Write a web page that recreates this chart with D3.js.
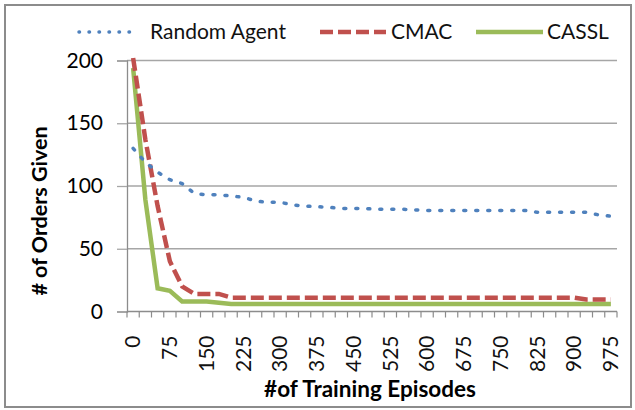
<!DOCTYPE html>
<html>
<head>
<meta charset="utf-8">
<script src="https://cdn.jsdelivr.net/npm/d3@7"></script>
<style>
  body { margin: 0; background: #fff; }
  svg text { font-family: Lato, "Open Sans", sans-serif; fill: #000; }
</style>
</head>
<body>
<svg width="635" height="410"></svg>
<script>
// episodes on the category axis
const categories = ['0','25','50','75','100','125','150','175','200','225','250','275','300','325','350','375','400','425','450','475',
  '500','525','550','575','600','625','650','675','700','725','750','775','800','825','850','875','900','925','950','975'];
const xTickLabels = ['0','75','150','225','300','375','450','525','600','675','750','825','900','975'];
const yTicks = [0, 50, 100, 150, 200];

const randomAgent = [130,119,111,105,102,94,93,93,92,91,88,87,87,85,84,83.5,83,82,82,82,
  81.5,81.5,81.5,81,80.5,80.5,80.5,80.5,80.5,80.5,80.5,80.5,80.5,79,79,79,79,79,77,76];
const cmac = [202,137,84,40,20,14,14,14,11,11,11,11,11,11,11,11,11,11,11,11,
  11,11,11,11,11,11,11,11,11,11,11,11,11,11,11,11,11,9.5,9.5,9.5];
const cassl = [194,89,18.5,16.5,8,8,8,7,6,6,6,6,6,6,6,6,6,6,6,6,
  6,6,6,6,6,6,6,6,6,6,6,6,6,6,6,6,6,6,6,6];

const seriesNames = ['Random Agent', 'CMAC', 'CASSL'];

const svg = d3.select('svg');

// outer frame
svg.append('rect')
    .attr('x', 5).attr('y', 5)
    .attr('width', 626).attr('height', 402)
    .attr('fill', 'none')
    .attr('stroke', '#8c8c8c')
    .attr('stroke-width', 2);

const plotLeft = 127, plotRight = 617, plotTop = 60.5, plotBottom = 311.5;

const x = d3.scaleBand().domain(categories).range([plotLeft, plotRight]).padding(0);
const y = d3.scaleLinear().domain([0, 200]).range([plotBottom, plotTop]);
const cx = c => x(c) + x.bandwidth() / 2;

// gridlines
svg.append('g')
    .selectAll('line')
    .data(yTicks.filter(d => d > 0))
    .enter()
    .append('line')
    .attr('x1', plotLeft).attr('x2', plotRight)
    .attr('y1', d => y(d)).attr('y2', d => y(d))
    .attr('stroke', '#a6a6a6')
    .attr('stroke-width', 1.3);

// y axis
const yAxis = svg.append('g')
    .attr('transform', 'translate(' + plotLeft + ',0)')
    .call(d3.axisLeft(y).tickValues(yTicks).tickSize(10).tickPadding(14));
yAxis.select('.domain').attr('stroke', '#8c8c8c').attr('stroke-width', 1.3);
yAxis.selectAll('.tick line').attr('stroke', '#a6a6a6').attr('stroke-width', 1.3);
yAxis.selectAll('text')
    .style('font-family', 'Lato, sans-serif')
    .attr('font-size', 21)
    .attr('fill', '#111');

// x axis: tick marks on band edges
const xAxis = svg.append('g');
xAxis.append('line')
    .attr('x1', plotLeft).attr('x2', plotRight)
    .attr('y1', plotBottom).attr('y2', plotBottom)
    .attr('stroke', '#8c8c8c')
    .attr('stroke-width', 1.3);
xAxis.selectAll('line.tk')
    .data(categories.concat(['end']))
    .enter()
    .append('line')
    .attr('class', 'tk')
    .attr('x1', d => d === 'end' ? plotRight : x(d))
    .attr('x2', d => d === 'end' ? plotRight : x(d))
    .attr('y1', plotBottom).attr('y2', plotBottom + 6)
    .attr('stroke', '#8c8c8c')
    .attr('stroke-width', 1.2);
xAxis.selectAll('text')
    .data(xTickLabels)
    .enter()
    .append('text')
    .attr('transform', d => 'translate(' + cx(d) + ',' + (plotBottom + 24) + ') rotate(-90)')
    .attr('text-anchor', 'end')
    .attr('dy', '0.35em')
    .attr('font-size', 21)
    .style('fill', '#111')
    .text(d => d);

// series
const line = d3.line()
    .x((d, i) => cx(categories[i]))
    .y(d => y(d));

svg.append('path')
    .datum(cassl)
    .attr('d', line)
    .attr('fill', 'none')
    .attr('stroke', '#9bbb59')
    .attr('stroke-width', 4.5);

svg.append('path')
    .datum(cmac)
    .attr('d', line)
    .attr('fill', 'none')
    .attr('stroke', '#c0504d')
    .attr('stroke-width', 4.5)
    .attr('stroke-dasharray', '13,5');

svg.append('path')
    .datum(randomAgent)
    .attr('d', line)
    .attr('fill', 'none')
    .attr('stroke', '#4f81bd')
    .attr('stroke-width', 3.5)
    .attr('stroke-linecap', 'round')
    .attr('stroke-dasharray', '2,10');

// legend
const legend = [
  {name: seriesNames[0], x1: 79, x2: 139, tx: 150, color: '#4f81bd', w: 3.5, dash: '0.5,9.5', cap: 'round'},
  {name: seriesNames[1], x1: 320, x2: 386, tx: 391, color: '#c0504d', w: 4.5, dash: '13,5', cap: 'butt'},
  {name: seriesNames[2], x1: 476, x2: 543, tx: 547, color: '#9bbb59', w: 4.5, dash: null, cap: 'butt'}
];
const lg = svg.append('g');
lg.selectAll('line')
    .data(legend)
    .enter()
    .append('line')
    .attr('x1', d => d.x1).attr('x2', d => d.x2)
    .attr('y1', 32).attr('y2', 32)
    .attr('stroke', d => d.color)
    .attr('stroke-width', d => d.w)
    .attr('stroke-linecap', d => d.cap)
    .attr('stroke-dasharray', d => d.dash);
lg.selectAll('text')
    .data(legend)
    .enter()
    .append('text')
    .attr('x', d => d.tx)
    .attr('y', 39)
    .attr('font-size', 21)
    .style('fill', '#111')
    .text(d => d.name);

// axis titles
svg.append('text')
    .attr('x', 370).attr('y', 397)
    .attr('text-anchor', 'middle')
    .attr('font-size', 22.5)
    .attr('font-weight', 'bold')
    .text('#of Training Episodes');

svg.append('text')
    .attr('transform', 'translate(47,211) rotate(-90)')
    .attr('text-anchor', 'middle')
    .attr('font-size', 21.5)
    .attr('font-weight', 'bold')
    .text('# of Orders Given');
</script>
</body>
</html>
